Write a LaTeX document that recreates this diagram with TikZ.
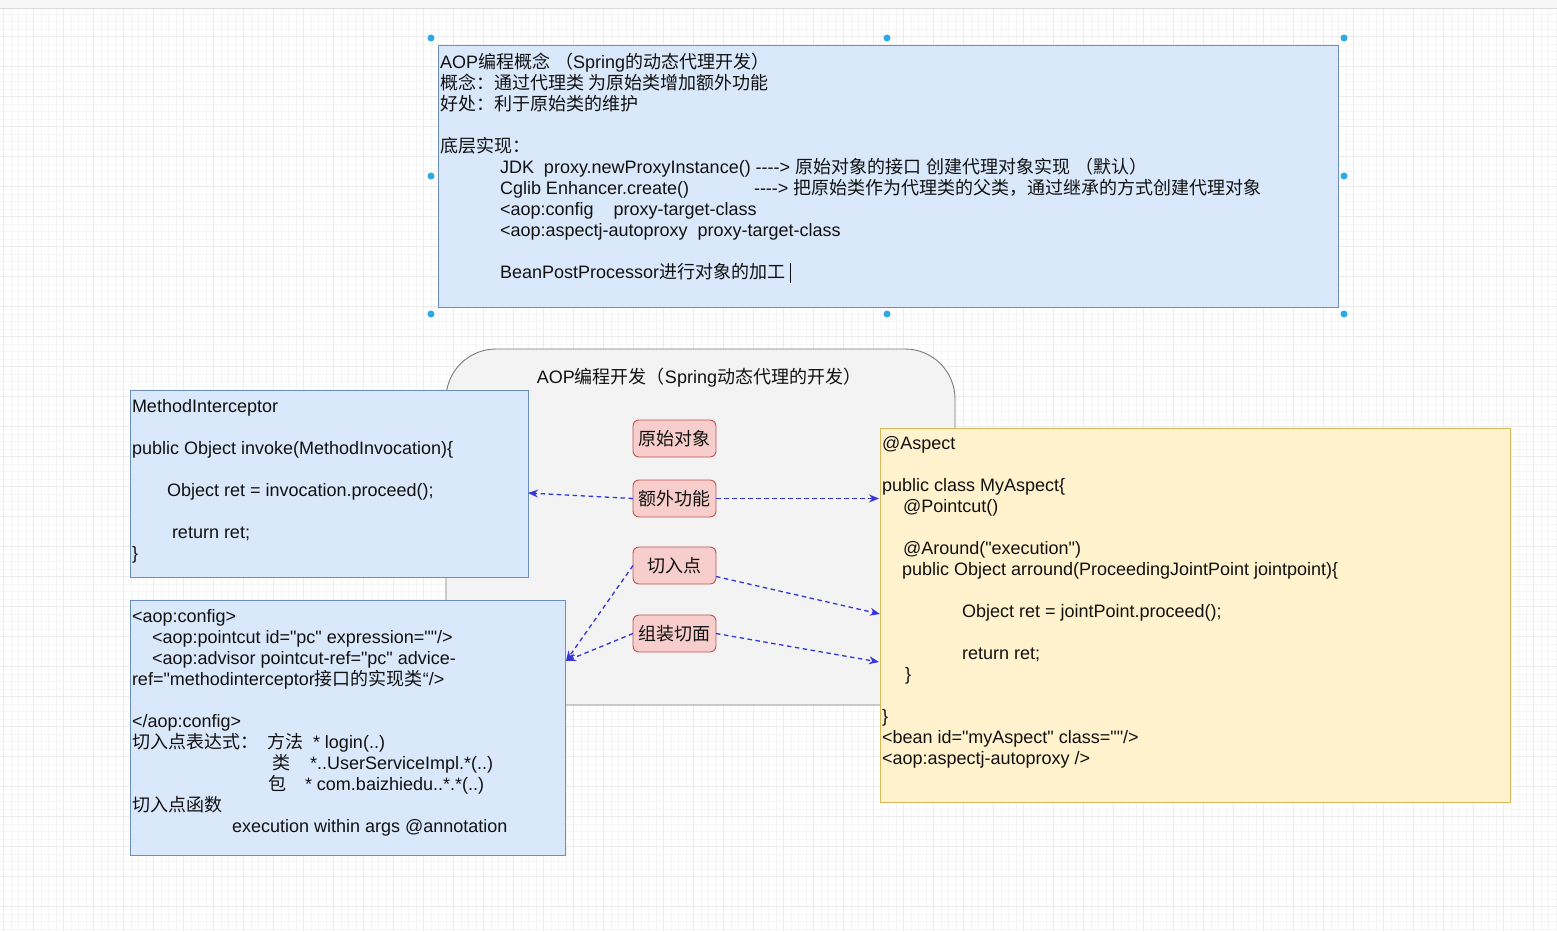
\documentclass[tikz,border=0pt]{standalone}
\usepackage{fontspec}
\setmainfont{Liberation Sans}[Ligatures=TeXOff]
\newfontfamily\cjkf{Noto Sans CJK SC}
\usetikzlibrary{arrows.meta}
\XeTeXinterchartokenstate=1
\newXeTeXintercharclass\CJKcls
\newcount\cjkcnt
\cjkcnt="2E80\relax
\loop\XeTeXcharclass\cjkcnt=\CJKcls\relax\advance\cjkcnt by 1\relax\ifnum\cjkcnt<"A000\relax\repeat
\cjkcnt="FF00\relax
\loop\XeTeXcharclass\cjkcnt=\CJKcls\relax\advance\cjkcnt by 1\relax\ifnum\cjkcnt<"FFF0\relax\repeat
\XeTeXinterchartoks 0 \CJKcls = {\cjkf}
\XeTeXinterchartoks 4095 \CJKcls = {\cjkf}
\XeTeXinterchartoks \CJKcls 0 = {\normalfont}
\XeTeXinterchartoks \CJKcls 4095 = {\normalfont}
\newcommand\boxfont{\fontsize{18}{21}\selectfont\lineskiplimit=-100pt\lineskip=0pt\relax}
\definecolor{blueF}{HTML}{DAE8FC}
\definecolor{blueS}{HTML}{6C8EBF}
\definecolor{yelF}{HTML}{FFF2CC}
\definecolor{yelS}{HTML}{D6B656}
\definecolor{pinkF}{HTML}{F8CECC}
\definecolor{pinkS}{HTML}{B85450}
\definecolor{greyF}{HTML}{F3F3F3}
\definecolor{greyS}{HTML}{7A7A7A}
\definecolor{arrC}{HTML}{3535D8}
\definecolor{gridMinor}{HTML}{F5F5F5}
\definecolor{gridMajor}{HTML}{EBEBEB}
\definecolor{handleC}{HTML}{2DA8E8}
\definecolor{barF}{HTML}{F7F7F7}
\definecolor{barS}{HTML}{DADADA}
\definecolor{txtC}{HTML}{111111}
\begin{document}
\begin{tikzpicture}[x=1pt,y=-1pt,
  every node/.style={inner sep=0pt, outer sep=0pt, text=txtC},
  bluebox/.style={fill=blueF, draw=blueS, line width=0.9pt},
  yelbox/.style={fill=yelF, draw=yelS, line width=0.9pt},
  pinkbox/.style={fill=pinkF, draw=pinkS, line width=0.9pt, rounded corners=6pt,
     minimum width=83pt, minimum height=37pt, font=\boxfont},
  greybox/.style={fill=greyF, draw=greyS, line width=0.9pt, rounded corners=50pt},
  txt/.style={align=left, anchor=north west, font=\boxfont},
  arr/.style={draw=arrC, line width=1.3pt, dash pattern=on 4.5pt off 3.5pt,
     -{Stealth[length=10pt,width=8pt]}},
  handle/.style={circle, fill=handleC, minimum size=7pt}
]
\useasboundingbox (0,0) rectangle (1557,931);
\fill[white] (0,0) rectangle (1557,931);
% grid
\foreach \i in {0,...,207} {\draw[gridMinor, line width=0.6pt] ({3.3+7.5*\i},8) -- ({3.3+7.5*\i},931);}
\foreach \i in {0,...,124} {\draw[gridMinor, line width=0.6pt] (0,{6.7+7.5*\i}) -- (1557,{6.7+7.5*\i});}
\foreach \i in {0,...,52} {\draw[gridMajor, line width=0.8pt] ({3.3+30*\i},8) -- ({3.3+30*\i},931);}
\foreach \i in {1,...,31} {\draw[gridMajor, line width=0.8pt] (0,{6.7+30*\i}) -- (1557,{6.7+30*\i});}
\fill[barF] (0,0) rectangle (1557,8);
\draw[barS, line width=0.8pt] (0,8) -- (1557,8);

% top box
\node[bluebox, minimum width=900pt, minimum height=262pt] (topbox) at (888,176) {};
\node[txt] (toptxt) at (440,53.3) {\strut AOP编程概念 （Spring的动态代理开发）\\
概念：通过代理类 为原始类增加额外功能\\
好处：利于原始类的维护\\
\strut\\
底层实现：\\
\hspace*{60pt}JDK\ \ proxy.newProxyInstance() ----> 原始对象的接口 创建代理对象实现 （默认）\\
\hspace*{60pt}\makebox[254pt][l]{Cglib Enhancer.create()}----> 把原始类作为代理类的父类，通过继承的方式创建代理对象\\
\hspace*{60pt}<aop:config\ \ \ \ proxy-target-class\\
\hspace*{60pt}<aop:aspectj-autoproxy\ \ proxy-target-class\\
\strut\\
\hspace*{60pt}BeanPostProcessor进行对象的加工\ \rule[-4pt]{0.8pt}{20pt}};
% selection handles
\node[handle] (h1) at (431,38) {};
\node[handle] (h2) at (887,38) {};
\node[handle] (h3) at (1344,38) {};
\node[handle] (h4) at (431,176) {};
\node[handle] (h5) at (1344,176) {};
\node[handle] (h6) at (431,314) {};
\node[handle] (h7) at (887,314) {};
\node[handle] (h8) at (1344,314) {};

% grey group
\node[greybox, minimum width=509pt, minimum height=356pt] (grp) at (700.5,527) {};
\node[font=\boxfont] (grptitle) at (699,378) {AOP编程开发（Spring动态代理的开发）};

% MethodInterceptor box
\node[bluebox, minimum width=398pt, minimum height=187pt] (mi) at (329,483.5) {};
\node[txt] (mitxt) at (132,397.3) {\strut MethodInterceptor\\
\strut\\
public Object invoke(MethodInvocation)\{\\
\strut\\
\hspace*{35pt}Object ret = invocation.proceed();\\
\strut\\
\hspace*{40pt}return ret;\\
\}};

% aop:config box
\node[bluebox, minimum width=435pt, minimum height=255pt] (aop) at (347.5,727.5) {};
\node[txt] (aoptxt) at (132,607.3) {\strut <aop:config>\\
\hspace*{20pt}<aop:pointcut id="pc" expression=""/>\\
\hspace*{20pt}<aop:advisor pointcut-ref="pc" advice-\\
ref="methodinterceptor接口的实现类“/>\\
\strut\\
</aop:config>\\
\makebox[136pt][l]{切入点表达式：}\makebox[45pt][l]{方法}* login(..)\\
\hspace*{140pt}\makebox[38pt][l]{类}*..UserServiceImpl.*(..)\\
\hspace*{136pt}\makebox[37pt][l]{包}* com.baizhiedu..*.*(..)\\
切入点函数\\
\hspace*{100pt}execution within args @annotation};

% aspect box
\node[yelbox, minimum width=630pt, minimum height=374pt] (asp) at (1195,615) {};
\node[txt] (asptxt) at (882,434.3) {\strut @Aspect\\
\strut\\
public class MyAspect\{\\
\hspace*{21pt}@Pointcut()\\
\strut\\
\hspace*{21pt}@Around("execution")\\
\hspace*{20pt}public Object arround(ProceedingJointPoint jointpoint)\{\\
\strut\\
\hspace*{80pt}Object ret = jointPoint.proceed();\\
\strut\\
\hspace*{80pt}return ret;\\
\hspace*{23pt}\}\\
\strut\\
\}\\
<bean id="myAspect" class=""/>\\
<aop:aspectj-autoproxy />};

% pink nodes
\node[pinkbox] (ys) at (674.5,438.5) {原始对象};
\node[pinkbox] (ef) at (674.5,498.5) {额外功能};
\node[pinkbox] (qr) at (674.5,565.5) {切入点};
\node[pinkbox] (zz) at (674.5,633.5) {组装切面};

% connector endpoints
\coordinate (miIn) at (528,493);
\coordinate (aspIn1) at (879,498.5);
\coordinate (aspIn2) at (880,614);
\coordinate (aspIn3) at (879,662);
\coordinate (aopIn) at (566,661);

\draw[arr] (ef.west) -- (miIn);
\draw[arr] (ef.east) -- (aspIn1);
\draw[arr] (qr.west) -- (aopIn);
\draw[arr] ([yshift=-11pt]qr.east) -- (aspIn2);
\draw[arr] (zz.west) -- (aopIn);
\draw[arr] (zz.east) -- (aspIn3);
\end{tikzpicture}
\end{document}
